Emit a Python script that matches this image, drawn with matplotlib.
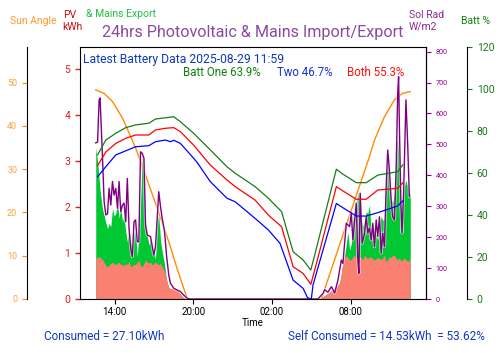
import matplotlib
matplotlib.use("Agg")
import matplotlib.pyplot as plt
import matplotlib.patheffects as pe
import numpy as np

plt.rcParams['font.family'] = ['Roboto', 'DejaVu Sans']

# ---------------- data (time in hours from 00:00 on 2025-08-28) ----------------
sun_hours = [12.55, 13.19, 13.83, 14.59, 15.59, 16.35, 17.24, 17.87, 18.25, 18.76, 19.26, 19.55,
             29.77, 30.40, 31.41, 32.43, 33.44, 33.82, 34.58, 35.34, 35.97, 36.55]
sun_angle = [48.3, 47.5, 45.6, 41.8, 34.9, 28.6, 21.0, 15.5, 12.0, 7.0, 2.5, 0.0,
             0.0, 5.7, 14.8, 23.9, 32.9, 36.7, 42.1, 46.0, 47.5, 47.9]

rad_hours = [12.55, 12.69, 12.81, 12.88, 13.07, 13.19, 13.32, 13.45, 13.57, 13.70, 13.83, 13.95,
             14.08, 14.21, 14.33, 14.46, 14.59, 14.71, 14.84, 14.96, 15.09, 15.22, 15.34, 15.47,
             15.59, 15.72, 15.84, 15.97, 16.10, 16.23, 16.35, 16.48, 16.73, 16.98, 17.11, 17.24,
             17.36, 17.49, 17.62, 17.80, 17.95, 18.12, 18.25, 18.50, 18.76, 19.01, 19.26, 19.52,
             19.70, 29.50, 29.89, 30.02, 30.27, 30.53, 30.78, 31.03, 31.29, 31.41, 31.67, 31.92,
             32.05, 32.17, 32.43, 32.55, 32.63, 32.73, 32.88, 33.06, 33.19, 33.31, 33.44, 33.57,
             33.69, 33.82, 33.95, 34.07, 34.20, 34.33, 34.45, 34.58, 34.71, 34.83, 34.96, 35.09,
             35.21, 35.34, 35.47, 35.59, 35.66, 35.72, 35.84, 35.92, 36.04, 36.22, 36.35, 36.48]
sol_rad = [505, 507, 644, 650, 455, 315, 272, 275, 358, 304, 380, 336,
           358, 293, 380, 282, 304, 310, 250, 390, 229, 164, 137, 250,
           256, 185, 185, 476, 471, 455, 239, 207, 202, 142, 169, 261,
           347, 300, 261, 218, 142, 78, 51, 35, 29, 24, 13, 3,
           0, 0, 18, 30, 22, 40, 19, 61, 126, 115, 245, 234,
           277, 191, 310, 126, 83, 342, 180, 213, 266, 213, 230, 191,
           245, 169, 256, 202, 266, 148, 213, 169, 363, 482, 417, 320,
           266, 256, 417, 665, 719, 557, 299, 213, 342, 644, 504, 331]

pv_hours = [12.55, 12.69, 12.81, 12.88, 13.07, 13.19, 13.32, 13.45, 13.57, 13.70, 13.83, 13.95,
            14.08, 14.21, 14.33, 14.46, 14.59, 14.71, 14.84, 14.96, 15.09, 15.22, 15.34, 15.47,
            15.59, 15.72, 15.84, 15.97, 16.10, 16.23, 16.35, 16.48, 16.61, 16.73, 16.86, 16.98,
            17.11, 17.24, 17.36, 17.49, 17.62, 17.80, 17.95, 18.12, 18.25, 18.50, 18.76, 19.01,
            19.26, 19.52, 29.64, 29.89, 30.15, 30.40, 30.66, 30.91, 31.16, 31.29, 31.41, 31.54,
            31.67, 31.79, 31.92, 32.05, 32.17, 32.30, 32.43, 32.55, 32.68, 32.80, 32.93, 33.06,
            33.19, 33.31, 33.44, 33.57, 33.69, 33.82, 34.07, 34.20, 34.33, 34.45, 34.58, 34.71,
            34.83, 34.96, 35.09, 35.21, 35.34, 35.47, 35.59, 35.72, 35.84, 35.97, 36.09, 36.22,
            36.35, 36.48, 36.55]
pv_self = [0.88, 0.9, 0.92, 0.9, 0.85, 0.8, 0.72, 0.7, 0.74, 0.77, 0.8, 0.76,
           0.75, 0.78, 0.8, 0.74, 0.75, 0.72, 0.78, 0.74, 0.82, 0.7, 0.72, 0.75,
           0.75, 0.8, 0.85, 0.72, 0.7, 0.78, 0.85, 0.8, 0.78, 0.8, 0.74, 0.77,
           0.8, 0.77, 0.74, 0.78, 0.7, 0.6, 0.42, 0.25, 0.22, 0.22, 0.2, 0.1,
           0.03, 0.0, 0.0, 0.05, 0.1, 0.15, 0.2, 0.25, 0.35, 0.55, 0.8, 0.9,
           0.95, 0.9, 0.85, 0.85, 0.92, 0.95, 0.88, 0.85, 0.9, 0.9, 0.85, 0.95,
           0.9, 0.88, 0.92, 0.9, 0.88, 0.85, 0.9, 0.88, 0.85, 0.9, 0.95, 0.8,
           0.85, 0.92, 0.9, 0.95, 0.95, 0.88, 0.85, 0.9, 0.82, 0.85, 0.9, 0.85,
           0.82, 0.85, 0.85]
pv_total = [3.28, 3.0, 2.6, 2.36, 1.95, 1.82, 1.65, 1.53, 1.64, 1.57, 1.97, 1.8,
            1.86, 2.11, 1.75, 2.0, 1.68, 1.82, 1.46, 1.24, 1.57, 1.25, 1.10, 1.43,
            1.46, 0.92, 1.39, 2.08, 3.16, 2.5, 1.71, 1.39, 1.17, 1.32, 1.0, 1.10,
            0.85, 1.71, 1.82, 1.28, 1.03, 0.75, 0.42, 0.25, 0.22, 0.22, 0.2, 0.1,
            0.03, 0.0, 0.0, 0.05, 0.1, 0.15, 0.2, 0.25, 0.35, 0.55, 0.8, 0.95,
            1.2, 1.46, 1.06, 1.2, 1.82, 1.6, 1.97, 2.33, 2.1, 1.75, 1.57, 1.71,
            1.89, 1.86, 2.04, 1.43, 1.6, 1.5, 1.28, 1.6, 1.79, 1.7, 1.75, 2.65,
            3.02, 2.44, 2.15, 2.1, 2.29, 3.38, 3.45, 3.02, 1.93, 2.15, 2.44, 2.58,
            2.44, 2.29, 2.3]

batt_hours = [12.69, 13.32, 14.08, 14.84, 15.59, 16.60, 17.11, 17.87, 18.50, 19.01, 20.02, 21.29,
              22.56, 23.19, 24.71, 25.72, 26.73, 27.61, 28.37, 28.96, 29.26, 30.91, 31.40, 32.43,
              33.19, 34.07, 35.59, 35.98]
batt_one = [68.6, 75.7, 78.9, 81.6, 82.9, 83.7, 85.7, 86.3, 86.8, 84.4, 78.9, 71.0,
            63.0, 59.9, 53.5, 48.0, 41.6, 22.5, 18.6, 13.8, 21.0, 61.8, 59.5, 55.4,
            55.4, 59.0, 60.6, 63.9]
batt_both = [63.5, 70.0, 74.1, 76.5, 78.1, 78.1, 80.5, 81.3, 81.6, 79.7, 73.3, 63.8,
             56.7, 53.5, 47.1, 40.0, 34.4, 15.4, 12.2, 7.0, 13.8, 53.5, 51.5, 47.5,
             47.5, 51.9, 52.7, 55.3]
batt2_hours = [12.69, 13.32, 14.08, 15.59, 16.60, 17.11, 17.87, 18.25, 18.50, 19.01, 20.02, 20.28,
               21.29, 22.56, 23.19, 24.71, 25.72, 26.61, 27.61, 28.37, 28.71, 29.00, 29.13, 30.91,
               31.40, 32.43, 33.19, 34.07, 35.59, 35.98]
batt_two = [58.2, 63.0, 68.6, 72.5, 73.0, 74.9, 75.7, 74.9, 75.6, 74.1, 67.0, 65.1,
            55.9, 48.0, 46.3, 38.4, 32.9, 26.5, 9.0, 5.1, 0.6, 0.0, 6.7, 45.5,
            43.5, 39.5, 39.5, 41.1, 44.3, 46.7]

time_ticks = [14, 20, 26, 32]
time_labels = ["14:00", "20:00", "02:00", "08:00"]

title = "24hrs Photovoltaic & Mains Import/Export"
latest = "Latest Battery Data 2025-08-29 11:59"
consumed = "Consumed = 27.10kWh"
self_consumed = "Self Consumed = 14.53kWh  = 53.62%"

# ---------------- figure ----------------
W, H = 500, 353
fig = plt.figure(figsize=(5, 3.53), dpi=100)
ax = fig.add_axes([80 / W, 1 - 299 / H, 346 / W, 252 / H])

def ftext(x, y, s, **kw):
    kw.setdefault('va', 'center')
    fig.text(x / W, 1 - y / H, s, **kw)

# PV areas on main axis
tot = np.maximum(np.array(pv_total), np.array(pv_self))
ax.fill_between(pv_hours, 0, tot, color='#00c832', lw=0)
ax.fill_between(pv_hours, 0, pv_self, color='#fa8072', lw=0)
ax.set_ylim(0, 5.47)
ax.set_xlim(11.35, 37.75)
ax.set_yticks([0, 1, 2, 3, 4, 5])
ax.tick_params(axis='y', colors='#e02020', labelsize=7.5, length=3.5, width=1)
ax.tick_params(axis='x', labelsize=7, length=3.5, pad=2)
ax.set_xticks(time_ticks)
ax.set_xticklabels(time_labels)
ax.set_xlabel("Time", fontsize=7, labelpad=1)
for s in ax.spines.values():
    s.set_color('black')

# sun angle
ax_sun = ax.twinx()
ax_sun.plot(sun_hours, sun_angle, color='#ff8c00', lw=1)
ax_sun.set_ylim(0, 58.2)
ax_sun.yaxis.set_ticks_position('left')
ax_sun.yaxis.set_label_position('left')
ax_sun.spines['left'].set_position(('axes', -53 / 346))
for k in ['right', 'top', 'bottom']:
    ax_sun.spines[k].set_visible(False)
ax_sun.set_yticks([0, 10, 20, 30, 40, 50])
ax_sun.tick_params(axis='y', colors='#ff8c00', labelcolor='#ffa040', labelsize=6.5, length=3.5)

# solar radiation
ax_sol = ax.twinx()
ax_sol.plot(rad_hours, sol_rad, color='#800080', lw=1.0,
            path_effects=[pe.Stroke(linewidth=2.2, foreground='white', alpha=0.6), pe.Normal()])
ax_sol.set_ylim(0, 815)
ax_sol.set_yticks(range(0, 801, 100))
ax_sol.tick_params(axis='y', colors='#900090', labelsize=5.2, length=3.5)
for k in ['left', 'top', 'bottom']:
    ax_sol.spines[k].set_visible(False)

# battery
ax_b = ax.twinx()
ax_b.plot(batt_hours, batt_one, color='#1a7a1a', lw=0.9)
ax_b.plot(batt_hours, batt_both, color='#ff0000', lw=0.9)
ax_b.plot(batt2_hours, batt_two, color='#0000ff', lw=0.9)
ax_b.set_ylim(0, 120)
ax_b.set_yticks(range(0, 121, 20))
ax_b.spines['right'].set_position(('axes', 387 / 346))
for k in ['left', 'top', 'bottom']:
    ax_b.spines[k].set_visible(False)
ax_b.tick_params(axis='y', colors='#1a7a1a', labelsize=7.5, length=3.5)

# ---------------- texts ----------------
ftext(253, 33, title, ha='center', fontsize=11.6, color='#8a4a9e')
ftext(10, 21, "Sun Angle", fontsize=7.5, color='#ff9a2e')
ftext(63, 15, "PV", fontsize=7.5, color='#c01010')
ftext(62, 27, "kWh", fontsize=7.5, color='#c01010')
ftext(86, 14, "& Mains Export", fontsize=7.5, color='#20c040')
ftext(409, 15, "Sol Rad", fontsize=7.5, color='#8a2a8e')
ftext(409, 27, "W/m2", fontsize=7.5, color='#8a2a8e')
ftext(461, 21, "Batt %", fontsize=7.5, color='#108010')
ftext(83, 60, latest, fontsize=8.7, color='#1038c0')
ftext(183, 72, "Batt One 63.9%", fontsize=8.3, color='#108010')
ftext(277, 72, "Two 46.7%", fontsize=8.3, color='#1030e0')
ftext(347, 72, "Both 55.3%", fontsize=8.3, color='#ff1010')
ftext(44, 336, consumed, fontsize=8.5, color='#1038c0')
ftext(288, 336, self_consumed, fontsize=8.5, color='#1038c0')

fig.savefig("out.png", dpi=100)
